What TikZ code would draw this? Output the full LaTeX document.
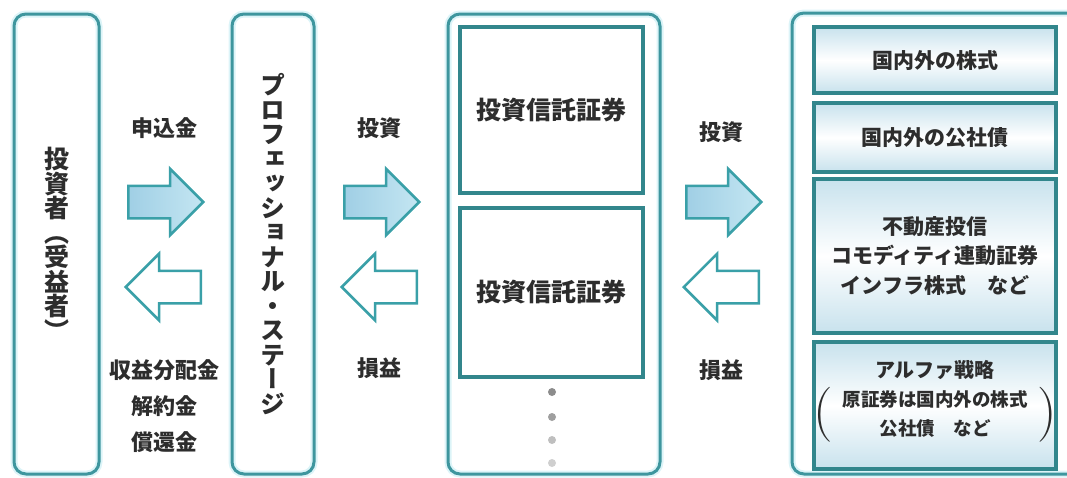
\documentclass[tikz,border=0pt]{standalone}
\usepackage{fontspec}
\usepackage{tikz}
\usetikzlibrary{shapes.arrows, positioning}
\newfontfamily\jpfont{Noto Sans CJK JP}
\newfontfamily\tatefont{Noto Sans CJK JP}[RawFeature=+vert]
\definecolor{boxteal}{RGB}{62,150,158}
\definecolor{innerteal}{RGB}{50,134,140}
\definecolor{glow}{RGB}{220,244,248}
\definecolor{arrowteal}{RGB}{58,160,168}
\definecolor{arrowfillA}{RGB}{160,207,229}
\definecolor{arrowfillB}{RGB}{196,230,242}
\definecolor{panelblue}{RGB}{200,226,237}
\definecolor{inkgray}{RGB}{45,45,45}
\tikzstyle{outerbox} = [rectangle, rounded corners=12pt, draw=boxteal, line width=3pt, preaction={draw=glow, line width=7pt}]
\tikzstyle{tate} = [align=center, inner sep=0pt, text=inkgray, font=\tatefont\bfseries\fontsize{25}{24.5}\selectfont]
\tikzstyle{fundbox} = [rectangle, draw=innerteal, line width=3.5pt, fill=white, text=inkgray, font=\jpfont\bfseries\fontsize{25}{30}\selectfont]
\tikzstyle{assetbox} = [rectangle, draw=innerteal, line width=3.5pt, minimum width=242pt, top color=panelblue, bottom color=panelblue, middle color=white, align=center, text=inkgray, font=\jpfont\bfseries\fontsize{21}{29.5}\selectfont]
\tikzstyle{flowarrow} = [single arrow, draw=arrowteal, line width=2.5pt, minimum height=75pt, single arrow head extend=17pt, inner xsep=0pt, inner ysep=15pt, anchor=tail]
\tikzstyle{inarrow} = [flowarrow, left color=arrowfillA, right color=arrowfillB]
\tikzstyle{outarrow} = [flowarrow, fill=white, shape border rotate=180]
\tikzstyle{flowtext} = [align=center, text=inkgray, font=\jpfont\bfseries\fontsize{22}{36}\selectfont]
\tikzstyle{bigparen} = [inner sep=0pt, text=inkgray, font=\fontsize{55}{55}\selectfont]

\begin{document}
\begin{tikzpicture}[x=1pt, y=-1pt]
\clip (0,0) rectangle (1067,477);
\useasboundingbox (0,0) rectangle (1067,477);
% columns
\node (investor) [outerbox, tate, minimum width=85pt, minimum height=460pt] at (56.5,244) {投\\資\\者\\（\\受\\益\\者\\）};
\node (stage) [outerbox, tate, minimum width=82pt, minimum height=460pt] at (273,244) {プ\\ロ\\フ\\ェ\\ッ\\シ\\ョ\\ナ\\ル\\・\\ス\\テ\\ー\\ジ};
\node (fundcol) [outerbox, minimum width=212pt, minimum height=460pt] at (554,244) {};
\node (assetcol) [outerbox, minimum width=298pt, minimum height=461pt] at (941,243.5) {};
% funds
\node (fund1) [fundbox, minimum width=183pt, minimum height=166pt] at (551.5,110) {投資信託証券};
\node (fund2) [fundbox, minimum width=183pt, minimum height=169pt] at (551.5,292.5) {投資信託証券};
\foreach \y/\c in {392/gray!90, 417/gray!75, 440/gray!50, 463/gray!38}
  \fill[\c] (552,\y) circle (4pt);
% assets
\node (stocks) [assetbox, minimum height=66pt] at (935,60) {国内外の株式};
\node (bonds) [assetbox, minimum height=69pt] at (935,137.5) {国内外の公社債};
\node (alts) [assetbox, minimum height=154pt] at (935,256) {不動産投信\\コモディティ連動証券\\インフラ株式　など};
\node (alpha) [assetbox, minimum height=127pt] at (935,405.5) {};
\node (alphatext) [flowtext, font=\jpfont\bfseries\fontsize{20}{29}\selectfont] at (935,399) {アルファ戦略\\{\fontsize{18.5}{29}\selectfont 原証券は国内外の株式}\\{\fontsize{18.5}{29}\selectfont 公社債　など}};
\node (parL) [bigparen] at (823,415) {(};
\node (parR) [bigparen] at (1047,415) {)};
% arrows
\node (pay1) [inarrow] at (127,202) {};
\node (ret1) [outarrow] at (202,287) {};
\node (pay2) [inarrow] at (343,202) {};
\node (ret2) [outarrow] at (418,287) {};
\node (pay3) [inarrow] at (685,202) {};
\node (ret3) [outarrow] at (760,287) {};
% labels
\node (subs) [flowtext] at (164,128) {申込金};
\node (dist) [flowtext] at (164,406) {収益分配金\\解約金\\償還金};
\node (inv2) [flowtext] at (379,128) {投資};
\node (pl2) [flowtext] at (379,368) {損益};
\node (inv3) [flowtext] at (721,132) {投資};
\node (pl3) [flowtext] at (721,370) {損益};
\end{tikzpicture}
\end{document}
